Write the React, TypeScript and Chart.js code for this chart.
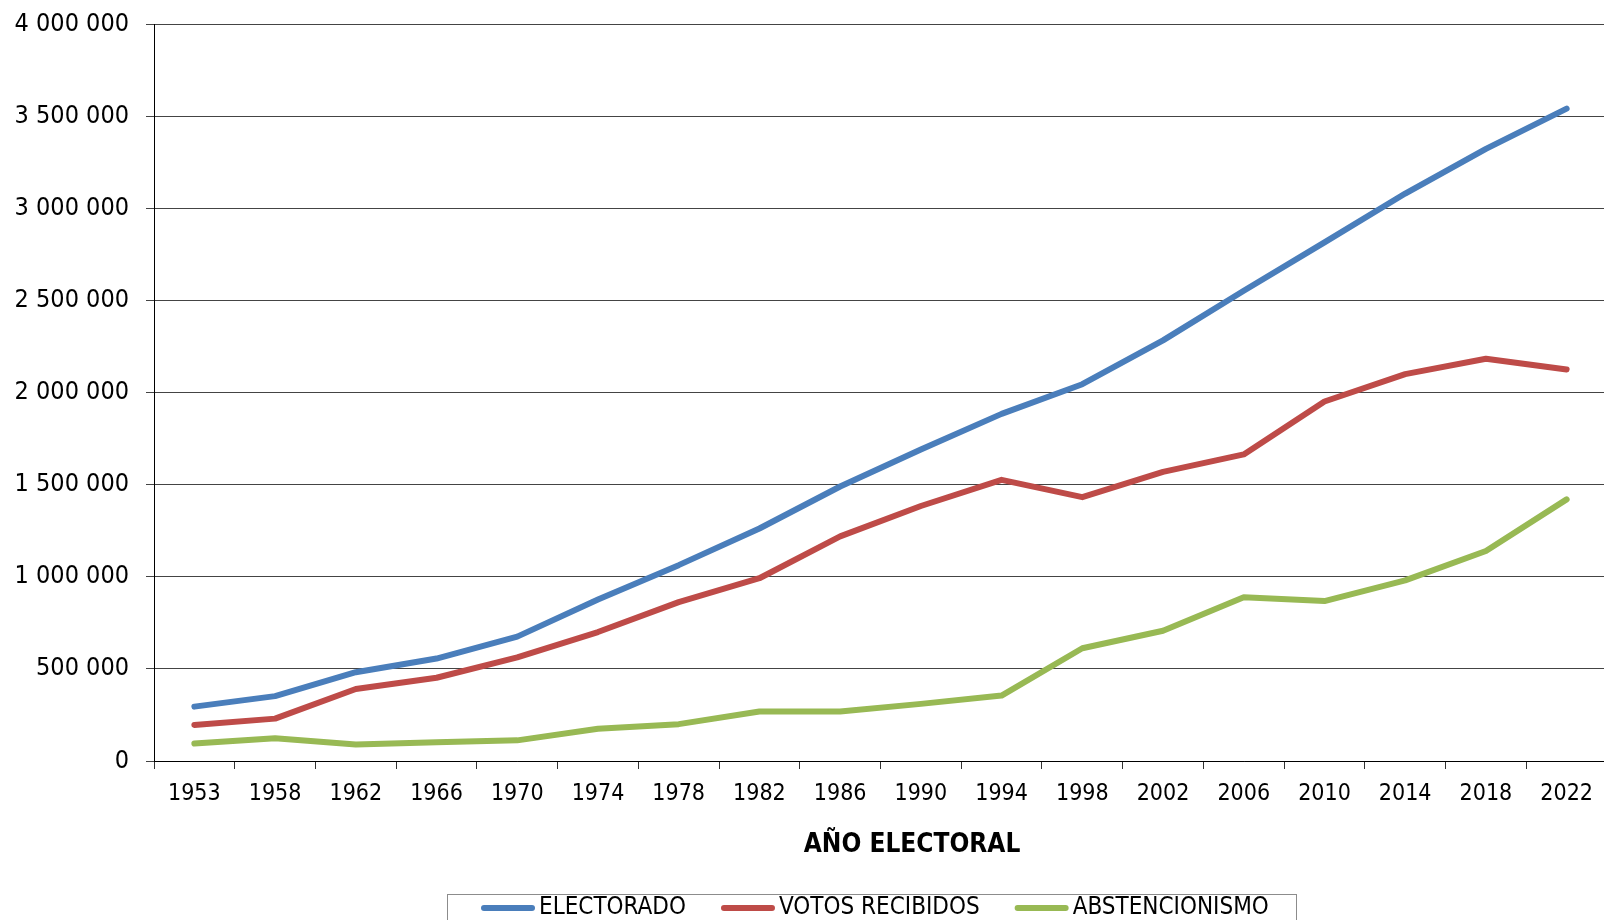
import React, { useEffect, useRef } from "react";
import { Chart, registerables } from "chart.js";

Chart.register(...registerables);

const YEARS = ["1953", "1958", "1962", "1966", "1970", "1974", "1978", "1982", "1986", "1990", "1994", "1998", "2002", "2006", "2010", "2014", "2018", "2022"];

const ELECTORADO = [295000, 352000, 482000, 556000, 675000, 876000, 1063000, 1262000, 1490000, 1691000, 1884000, 2045000, 2283000, 2552000, 2815000, 3080000, 3322000, 3541000];
const VOTOS_RECIBIDOS = [196000, 230000, 391000, 452000, 562000, 700000, 862000, 992000, 1219000, 1384000, 1526000, 1432000, 1569000, 1664000, 1951000, 2100000, 2183000, 2125000];
const ABSTENCIONISMO = [95000, 124000, 90000, 102000, 112000, 175000, 200000, 269000, 269000, 310000, 355000, 612000, 707000, 889000, 868000, 980000, 1140000, 1420000];

const SERIES_NAMES = ["ELECTORADO", "VOTOS RECIBIDOS", "ABSTENCIONISMO"];
const SERIES_COLORS = ["#4A7EBB", "#BE4B48", "#98B954"];
const X_TITLE = "AÑO ELECTORAL";
const Y_MIN = 0;
const Y_MAX = 4000000;
const Y_STEP = 500000;

const FONT = "'DejaVu Sans Condensed', 'Liberation Sans', sans-serif";

const fmt = (v: number) => String(v).replace(/\B(?=(\d{3})+(?!\d))/g, " ");

const overlayPlugin = {
  id: "overlay",
  afterDraw(chart: any) {
    const ctx = chart.ctx as CanvasRenderingContext2D;
    ctx.save();
    // axis title
    ctx.font = `bold 26px ${FONT}`;
    ctx.fillStyle = "#000";
    ctx.textAlign = "center";
    ctx.textBaseline = "middle";
    ctx.fillText(X_TITLE, 912, 845);

    // legend
    ctx.strokeStyle = "#8c8c8c";
    ctx.lineWidth = 1;
    ctx.strokeRect(447.5, 894.5, 849, 40);
    ctx.font = `24px ${FONT}`;
    ctx.textAlign = "left";
    let x = 481;
    const y = 908;
    SERIES_NAMES.forEach((name, i) => {
      ctx.beginPath();
      ctx.strokeStyle = SERIES_COLORS[i];
      ctx.lineWidth = 6;
      ctx.lineCap = "round";
      ctx.moveTo(x + 3, y);
      ctx.lineTo(x + 51, y);
      ctx.stroke();
      ctx.fillStyle = "#000";
      ctx.fillText(name, x + 58, y);
      x += 58 + ctx.measureText(name).width + 35;
    });
    ctx.restore();
  },
};

export default function App() {
  const ref = useRef<HTMLCanvasElement>(null);

  useEffect(() => {
    if (!ref.current) return;
    const datasets = [ELECTORADO, VOTOS_RECIBIDOS, ABSTENCIONISMO].map((d, i) => ({
      label: SERIES_NAMES[i],
      data: d,
      borderColor: SERIES_COLORS[i],
      backgroundColor: SERIES_COLORS[i],
      borderWidth: 6,
      pointRadius: 0,
      pointHoverRadius: 0,
      tension: 0,
      borderCapStyle: "round" as const,
      borderJoinStyle: "round" as const,
      fill: false,
    }));
    const chart = new Chart(ref.current, {
      type: "line",
      data: { labels: YEARS, datasets },
      options: {
        responsive: false,
        animation: false,
        devicePixelRatio: 1,
        layout: { padding: { top: 24, left: 0, right: 13, bottom: 0 } },
        plugins: {
          legend: { display: false },
          tooltip: { enabled: false },
          title: { display: false },
        },
        scales: {
          x: {
            type: "category",
            offset: true,
            grid: {
              offset: true,
              drawOnChartArea: false,
              drawTicks: true,
              tickLength: 8,
              color: "#333",
            },
            border: { color: "#000", width: 1 },
            ticks: {
              color: "#000",
              font: { family: FONT, size: 23 },
              padding: 11,
              maxRotation: 0,
              autoSkip: false,
            },
            afterFit: (scale: any) => {
              scale.height = 159;
              scale.paddingLeft = 0;
              scale.paddingRight = 0;
            },
          },
          y: {
            min: Y_MIN,
            max: Y_MAX,
            ticks: {
              stepSize: Y_STEP,
              color: "#000",
              font: { family: FONT, size: 25 },
              padding: 17,
              callback: (v: any) => fmt(Number(v)),
            },
            grid: {
              color: "#444",
              tickLength: 8,
              drawTicks: true,
            },
            border: { color: "#000", width: 1 },
            afterFit: (scale: any) => {
              scale.width = 154;
              scale.paddingTop = 0;
              scale.paddingBottom = 0;
            },
          },
        },
      },
      plugins: [overlayPlugin],
    });
    return () => chart.destroy();
  }, []);

  return (
    <div
      style={{
        position: "fixed",
        left: 0,
        top: 0,
        width: 1604,
        height: 920,
        overflow: "hidden",
        background: "#fff",
      }}
    >
      <canvas ref={ref} width={1620} height={920} style={{ width: 1620, height: 920, display: "block" }} />
    </div>
  );
}
